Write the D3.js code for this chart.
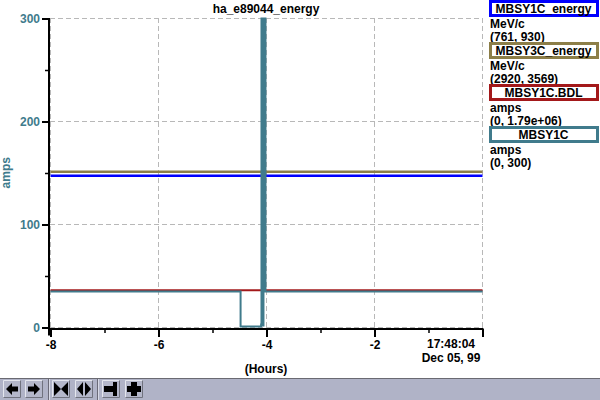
<!DOCTYPE html>
<html><head><meta charset="utf-8">
<script src="https://cdn.jsdelivr.net/npm/d3@7"></script>
<style>
html,body{margin:0;padding:0;background:#fff;}
svg{display:block;font-family:"Liberation Sans",Arial,Helvetica,sans-serif;font-weight:bold;}
</style></head>
<body>
<svg id="chart" width="600" height="400"></svg>
<script>
// ---- data ----
const chartTitle = "ha_e89044_energy";
const xTickValues = [-8, -6, -4, -2, 0];
const xTickLabels = ["-8", "-6", "-4", "-2", ""];
const endTimeLabel = ["17:48:04", "Dec 05, 99"];
const yTickValues = [0, 100, 200, 300];
const yTickLabels = ["0", "100", "200", "300"];
const xAxisTitle = "(Hours)";
const yAxisTitle = "amps";

const seriesNames = ["MBSY1C_energy", "MBSY3C_energy", "MBSY1C.BDL", "MBSY1C"];
const seriesUnits = ["MeV/c", "MeV/c", "amps", "amps"];
const seriesRanges = ["(761, 930)", "(2920, 3569)", "(0, 1.79e+06)", "(0, 300)"];
const seriesDomains = [[761, 930], [2920, 3569], [0, 1.79e6], [0, 300]];
const seriesColors = ["#0000ff", "#8c7e48", "#a3181a", "#407b8c"];

const mbsy1cEnergyTimes = [-8, 0];
const mbsy1cEnergyValues = [844, 844];
const mbsy3cEnergyTimes = [-8, 0];
const mbsy3cEnergyValues = [3247, 3247];
const mbsy1cBdlTimes = [-8, 0];
const mbsy1cBdlValues = [216000, 216000];
const mbsy1cTimes = [-8, -4.48, -4.10, -4.093, -4.074, -4.056, -4.019, 0];
const mbsy1cValues = [35, 1, 3, 300, 2, 300, 35, 35];

const seriesTimes = [mbsy1cEnergyTimes, mbsy3cEnergyTimes, mbsy1cBdlTimes, mbsy1cTimes];
const seriesValues = [mbsy1cEnergyValues, mbsy3cEnergyValues, mbsy1cBdlValues, mbsy1cValues];
const seriesWidths = [2.5, 2.5, 2, 2];

// ---- layout ----
const svg = d3.select("#chart");
const L = 50, R = 482, T = 18, B = 327.5;
const x = d3.scaleLinear().domain([-8, 0]).range([L + 0.5, R + 0.5]);
const y = d3.scaleLinear().domain([0, 300]).range([B, T + 0.5]);
const teal = "#407b8c";

// grid
const grid = svg.append("g").attr("stroke", "#b8b8b8").attr("stroke-dasharray", "5,3").attr("stroke-width", 1);
grid.selectAll(".gx").data(xTickValues).enter().append("line")
  .attr("x1", d => x(d)).attr("x2", d => x(d)).attr("y1", T).attr("y2", B + 0.5);
grid.selectAll(".gy").data(yTickValues).enter().append("line")
  .attr("y1", d => y(d)).attr("y2", d => y(d)).attr("x1", L).attr("x2", R + 1);

// clip
svg.append("clipPath").attr("id", "clip").append("rect")
  .attr("x", L).attr("y", T - 1).attr("width", R - L + 1).attr("height", B - T + 3);

// series
const plot = svg.append("g").attr("clip-path", "url(#clip)");
seriesNames.forEach((name, i) => {
  const ys = d3.scaleLinear().domain(seriesDomains[i]).range([B, T + 0.5]);
  const pts = seriesTimes[i].map((t, j) => [t, seriesValues[i][j]]);
  const line = d3.line().x(d => x(d[0])).y(d => ys(d[1])).curve(d3.curveStepAfter);
  plot.append("path").datum(pts).attr("d", line)
    .attr("fill", "none").attr("stroke", seriesColors[i]).attr("stroke-width", seriesWidths[i]);
});

// axes
const yAxis = d3.axisLeft(y).tickValues(yTickValues).tickFormat((d, i) => yTickLabels[i]).tickSize(7).tickPadding(2);
const gy = svg.append("g").attr("transform", `translate(${L - 1},0)`).call(yAxis);
gy.select(".domain").attr("stroke", "#000").attr("stroke-width", 2).attr("d", `M0,${T}V${B + 8}`);
gy.selectAll(".tick line").attr("stroke", "#000").attr("stroke-width", 2);
gy.selectAll(".tick text").attr("fill", teal).attr("font-size", 12).attr("font-weight", "bold")
  .attr("font-family", "Liberation Sans, Arial, sans-serif");
const yMinor = d3.axisLeft(y).tickValues([50, 150, 250]).tickFormat("").tickSize(4);
const gym = svg.append("g").attr("transform", `translate(${L - 1},0)`).call(yMinor);
gym.select(".domain").remove();
gym.selectAll(".tick line").attr("stroke", "#000").attr("stroke-width", 1.5);

const xAxis = d3.axisBottom(x).tickValues(xTickValues).tickFormat((d, i) => xTickLabels[i]).tickSize(8).tickPadding(3);
const gx = svg.append("g").attr("transform", `translate(0,${B + 1.5})`).call(xAxis);
gx.select(".domain").attr("stroke", "#000").attr("stroke-width", 2).attr("d", `M${L - 1},0H${R + 1.5}`);
gx.selectAll(".tick line").attr("stroke", "#000").attr("stroke-width", 2);
gx.selectAll(".tick text").attr("fill", "#000").attr("font-size", 12).attr("font-weight", "bold")
  .attr("font-family", "Liberation Sans, Arial, sans-serif");
const xMinor = d3.axisBottom(x).tickValues([-7, -5, -3, -1]).tickFormat("").tickSize(4);
const gxm = svg.append("g").attr("transform", `translate(0,${B + 1.5})`).call(xMinor);
gxm.select(".domain").remove();
gxm.selectAll(".tick line").attr("stroke", "#000").attr("stroke-width", 1.5);

// end time label
svg.append("g").selectAll("text").data(endTimeLabel).enter().append("text")
  .attr("x", 451).attr("y", (d, i) => 348 + i * 14).attr("text-anchor", "middle")
  .attr("font-size", 12).text(d => d);

// titles
svg.append("text").attr("x", (L + R) / 2).attr("y", 13).attr("text-anchor", "middle")
  .attr("font-size", 12).text(chartTitle);
svg.append("text").attr("x", (L + R) / 2).attr("y", 373).attr("text-anchor", "middle")
  .attr("font-size", 12).text(xAxisTitle);
svg.append("text").attr("transform", `translate(9.5,${(T + B) / 2}) rotate(-90)`).attr("text-anchor", "middle")
  .attr("font-size", 12).attr("fill", teal).text(yAxisTitle);

// legend
const lg = svg.append("g");
seriesNames.forEach((name, i) => {
  const top = i * 42;
  const g = lg.append("g").attr("transform", `translate(0,${top})`);
  g.append("rect").attr("x", 490.5).attr("y", 1.5).attr("width", 107).attr("height", 14)
    .attr("fill", "#fff").attr("stroke", seriesColors[i]).attr("stroke-width", 3);
  const t = g.append("text").attr("x", 543.5).attr("y", 13).attr("text-anchor", "middle")
    .attr("font-size", 12).text(name);
  if (name.length > 11) t.attr("textLength", 96).attr("lengthAdjust", "spacingAndGlyphs");
  g.append("text").attr("x", 490).attr("y", 27.5).attr("font-size", 12).text(seriesUnits[i]);
  g.append("text").attr("x", 490).attr("y", 41).attr("font-size", 12).text(seriesRanges[i]);
});

// toolbar
const tb = svg.append("g");
tb.append("rect").attr("x", 0).attr("y", 378).attr("width", 600).attr("height", 22).attr("fill", "#b0b3c7");
tb.append("line").attr("x1", 0).attr("x2", 600).attr("y1", 378.5).attr("y2", 378.5).attr("stroke", "#6a6a72");
[48.5, 97.5].forEach(sx => {
  tb.append("line").attr("x1", sx).attr("x2", sx).attr("y1", 379).attr("y2", 400).attr("stroke", "#6a6a78");
  tb.append("line").attr("x1", sx + 1).attr("x2", sx + 1).attr("y1", 379).attr("y2", 400).attr("stroke", "#d8dae6");
});
const buttonX = [3, 25, 52, 75, 102, 125];
const icons = [
  bx => `M${bx+3},389L${bx+9},383V386.5H${bx+15}V391.5H${bx+9}V395Z`,
  bx => `M${bx+15},389L${bx+9},383V386.5H${bx+3}V391.5H${bx+9}V395Z`,
  bx => `M${bx+2},382L${bx+9},389L${bx+2},396ZM${bx+16},382L${bx+9},389L${bx+16},396Z`,
  bx => `M${bx+8},382L${bx+2},389L${bx+8},396ZM${bx+10},382L${bx+16},389L${bx+10},396Z`,
  bx => `M${bx+2},386H${bx+11}V382H${bx+15}V396H${bx+11}V392H${bx+2}Z`,
  bx => `M${bx+2},386H${bx+6}V382H${bx+12}V386H${bx+16}V392H${bx+12}V396H${bx+6}V392H${bx+2}Z`
];
buttonX.forEach((bx, i) => {
  tb.append("rect").attr("x", bx).attr("y", 380).attr("width", 18).attr("height", 18).attr("fill", "#b4b7ca");
  tb.append("path").attr("d", `M${bx+0.5},${397.5}V${380.5}H${bx+17.5}`).attr("fill", "none").attr("stroke", "#e4e6ee");
  tb.append("path").attr("d", `M${bx+0.5},${397.5}H${bx+17.5}V${380.5}`).attr("fill", "none").attr("stroke", "#70727e");
  tb.append("path").attr("d", icons[i](bx)).attr("fill", "#000");
});
</script>
</body></html>
